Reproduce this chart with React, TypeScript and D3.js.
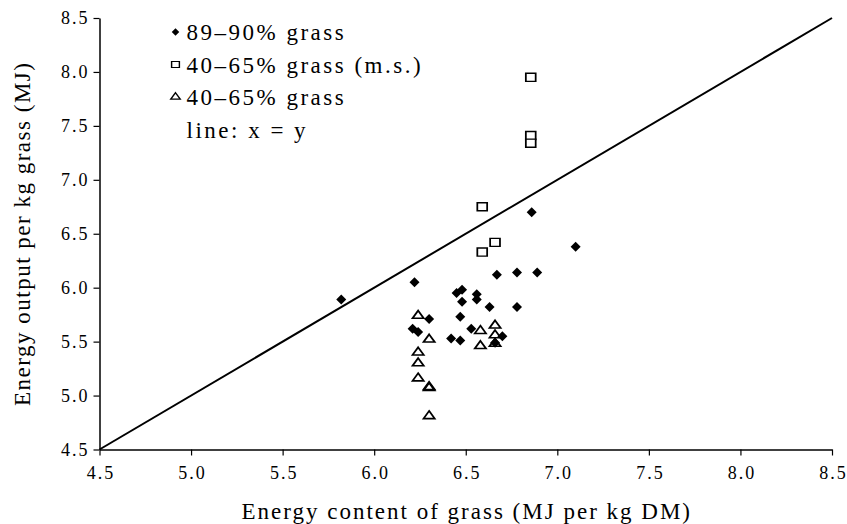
import React, { useRef, useEffect } from "react";
import * as d3 from "d3";

// 89-90% grass (filled diamonds)
const highGrassX = [5.82, 6.22, 6.21, 6.24, 6.30, 6.42, 6.47, 6.45, 6.48, 6.47, 6.48, 6.53, 6.56, 6.56, 6.63, 6.66, 6.67, 6.70, 6.78, 6.78, 6.86, 6.89, 7.10];
const highGrassY = [5.89, 6.05, 5.62, 5.59, 5.71, 5.53, 5.51, 5.95, 5.98, 5.73, 5.87, 5.62, 5.94, 5.89, 5.82, 5.49, 6.12, 5.55, 6.14, 5.82, 6.70, 6.14, 6.38];

// 40-65% grass (m.s.) (open squares)
const msGrassX = [6.855, 6.855, 6.855, 6.59, 6.59, 6.66];
const msGrassY = [7.95, 7.41, 7.34, 6.75, 6.33, 6.42];

// 40-65% grass (open triangles)
const lowGrassX = [6.24, 6.30, 6.24, 6.24, 6.24, 6.30, 6.30, 6.30, 6.58, 6.58, 6.66, 6.66, 6.66];
const lowGrassY = [5.74, 5.52, 5.40, 5.30, 5.16, 5.08, 5.07, 4.81, 5.60, 5.46, 5.65, 5.56, 5.48];

const xTicks = [4.5, 5.0, 5.5, 6.0, 6.5, 7.0, 7.5, 8.0, 8.5];
const yTicks = [4.5, 5.0, 5.5, 6.0, 6.5, 7.0, 7.5, 8.0, 8.5];

const legendLabels = ["89\u201390% grass", "40\u201365% grass (m.s.)", "40\u201365% grass", "line: x = y"];

const FONT = "'Liberation Serif', 'DejaVu Serif', serif";

const App: React.FC = () => {
    const ref = useRef<SVGSVGElement | null>(null);

    useEffect(() => {
        d3.select(ref.current).selectAll("*").remove();

        const W = 847;
        const H = 524;
        const margin = { top: 18, right: 15, bottom: 74.5, left: 99.5 };
        const width = W - margin.left - margin.right;
        const height = H - margin.top - margin.bottom;

        const svg = d3
            .select(ref.current)
            .attr("width", W)
            .attr("height", H)
            .append("g")
            .attr("transform", `translate(${margin.left},${margin.top})`);

        const x = d3.scaleLinear().domain([4.5, 8.5]).range([0, width]);
        const y = d3.scaleLinear().domain([4.5, 8.5]).range([height, 0]);

        const xAxis = d3
            .axisBottom(x)
            .tickValues(xTicks)
            .tickSize(6)
            .tickSizeOuter(0)
            .tickPadding(11)
            .tickFormat(d3.format(".1f"));
        const gx = svg.append("g").attr("transform", `translate(0,${height})`).call(xAxis);
        gx.selectAll(".tick text").attr("dx", 1);

        const yAxis = d3
            .axisLeft(y)
            .tickValues(yTicks)
            .tickSize(6)
            .tickSizeOuter(0)
            .tickPadding(4)
            .tickFormat(d3.format(".1f"));
        const gy = svg.append("g").call(yAxis);

        [gx, gy].forEach((g) => {
            g.select(".domain").attr("stroke", "#000").attr("stroke-width", 1.5);
            g.selectAll(".tick line").attr("stroke", "#000").attr("stroke-width", 1.2);
            g.selectAll("text")
                .style("font-family", FONT)
                .style("font-size", "18px")
                .style("letter-spacing", "2px")
                .attr("fill", "#000");
        });

        // x = y reference line
        const line = d3
            .line<number>()
            .x((d) => x(d))
            .y((d) => y(d));
        svg.append("path")
            .datum([4.5, 8.5])
            .attr("fill", "none")
            .attr("stroke", "#000")
            .attr("stroke-width", 2)
            .attr("d", line);

        const diamond = d3.symbol().type(d3.symbolSquare).size(50);
        const square = d3.symbol().type(d3.symbolSquare).size(80);
        const triangle = d3.symbol().type(d3.symbolTriangle).size(38);

        // squares
        svg.append("g")
            .selectAll("path")
            .data(msGrassX.map((v, i) => [v, msGrassY[i]]))
            .enter()
            .append("path")
            .attr("d", square)
            .attr("transform", (d) => `translate(${x(d[0])},${y(d[1])}) scale(1.1,0.9)`)
            .attr("fill", "#fff")
            .attr("stroke", "#000")
            .attr("stroke-width", 1.6);

        // triangles
        svg.append("g")
            .selectAll("path")
            .data(lowGrassX.map((v, i) => [v, lowGrassY[i]]))
            .enter()
            .append("path")
            .attr("d", triangle)
            .attr("transform", (d) => `translate(${x(d[0])},${y(d[1])}) scale(1.2,0.95)`)
            .attr("fill", "none")
            .attr("stroke", "#000")
            .attr("stroke-width", 1.6);

        // diamonds
        svg.append("g")
            .selectAll("path")
            .data(highGrassX.map((v, i) => [v, highGrassY[i]]))
            .enter()
            .append("path")
            .attr("d", diamond)
            .attr("transform", (d) => `translate(${x(d[0])},${y(d[1])}) rotate(45)`)
            .attr("fill", "#000");

        // legend
        const legend = svg.append("g").attr("transform", "translate(76,14)");
        legendLabels.forEach((label, i) => {
            const row = legend.append("g").attr("transform", `translate(0,${i * 32.5})`);
            if (i === 0) {
                row.append("path")
                    .attr("d", d3.symbol().type(d3.symbolSquare).size(28)())
                    .attr("transform", "rotate(45)")
                    .attr("fill", "#000");
            } else if (i === 1) {
                row.append("path")
                    .attr("d", d3.symbol().type(d3.symbolSquare).size(50)())
                    .attr("transform", "scale(1.1,0.85)")
                    .attr("fill", "#fff")
                    .attr("stroke", "#000")
                    .attr("stroke-width", 1.3);
            } else if (i === 2) {
                row.append("path")
                    .attr("d", d3.symbol().type(d3.symbolTriangle).size(30)())
                    .attr("transform", "scale(1.15,0.9)")
                    .attr("fill", "none")
                    .attr("stroke", "#000")
                    .attr("stroke-width", 1.3);
            }
            row.append("text")
                .attr("x", 11)
                .attr("y", 8)
                .style("font-family", FONT)
                .style("font-size", "23px")
                .style("letter-spacing", "2.5px")
                .attr("fill", "#000")
                .text(label);
        });

        // axis titles
        svg.append("text")
            .attr("x", width / 2 + 1)
            .attr("y", height + 69)
            .attr("text-anchor", "middle")
            .style("font-family", FONT)
            .style("font-size", "23px")
            .style("letter-spacing", "2px")
            .attr("fill", "#000")
            .text("Energy content of grass (MJ per kg DM)");

        svg.append("text")
            .attr("transform", "rotate(-90)")
            .attr("x", -height / 2)
            .attr("y", -margin.left + 30)
            .attr("text-anchor", "middle")
            .style("font-family", FONT)
            .style("font-size", "23px")
            .style("letter-spacing", "1.5px")
            .attr("fill", "#000")
            .text("Energy output per kg grass (MJ)");

        return () => {
            d3.select(ref.current).selectAll("*").remove();
        };
    }, []);

    return (
        <div style={{ position: "absolute", left: 0, top: 0, background: "#fff" }}>
            <svg ref={ref}></svg>
        </div>
    );
};

export default App;
